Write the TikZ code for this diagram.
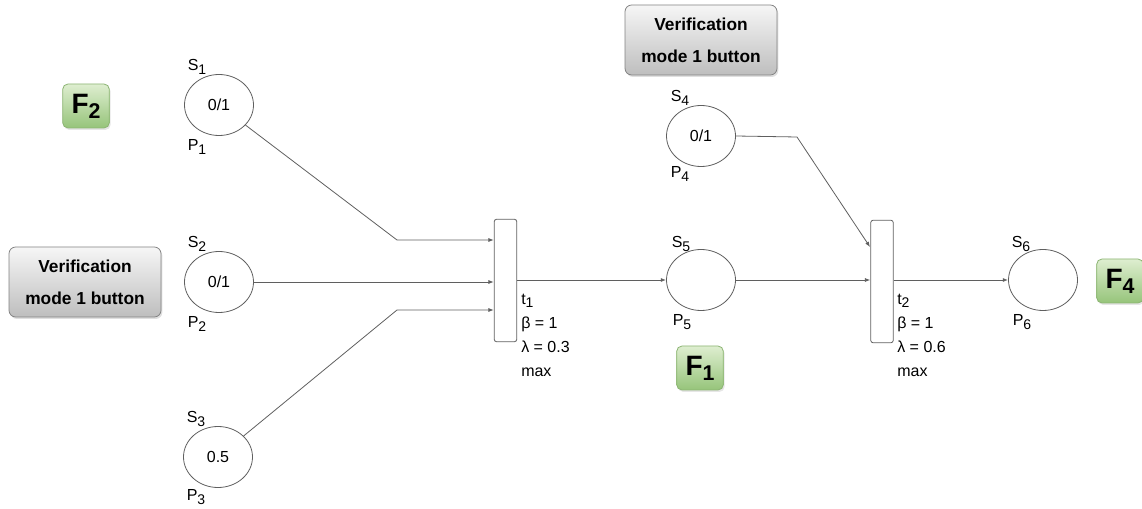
\documentclass[tikz,border=0pt]{standalone}
\usepackage{fontspec}
\setmainfont{Liberation Sans}
\usetikzlibrary{arrows.meta,shadows,shapes.geometric}
\definecolor{lineg}{RGB}{95,95,95}
\definecolor{gtop}{RGB}{222,238,208}
\definecolor{gbot}{RGB}{150,196,122}
\definecolor{gbord}{RGB}{140,180,115}
\definecolor{ytop}{RGB}{246,246,246}
\definecolor{ybot}{RGB}{190,190,190}
\definecolor{ybord}{RGB}{130,130,130}
\newcommand\sbs[1]{\raisebox{-0.4ex}{\fontsize{10.5}{12}\selectfont #1}}
\newcommand\fsbs[1]{\raisebox{-0.35ex}{\fontsize{16}{18}\selectfont\bfseries #1}}
\begin{document}
\begin{tikzpicture}[x=0.75pt,y=-0.75pt,
  place/.style={draw=lineg, line width=0.6pt, ellipse, minimum width=51.75pt, minimum height=45.75pt, inner sep=0pt, font=\fontsize{12}{14}\selectfont},
  trans/.style={draw=lineg, line width=0.6pt, rounded corners=2pt, minimum width=17pt, minimum height=92pt, inner sep=0pt},
  lbl/.style={inner sep=0pt, font=\fontsize{12}{14}\selectfont},
  tlbl/.style={inner sep=0pt, anchor=west, align=left, font=\fontsize{12}{18}\selectfont},
  arc/.style={draw=lineg, line width=0.6pt, -{Latex[length=4pt,width=3pt]}},
  btn/.style={draw=ybord, line width=0.6pt, rounded corners=5pt, top color=ytop, bottom color=ybot, minimum width=114pt, minimum height=52.5pt, align=center, font=\fontsize{13}{24}\selectfont\bfseries, drop shadow={opacity=0.25, shadow xshift=1pt, shadow yshift=-1.5pt}},
  fbox/.style={draw=gbord, line width=0.6pt, rounded corners=4pt, top color=gtop, bottom color=gbot, minimum width=35pt, minimum height=33pt, inner sep=0pt, font=\fontsize{21}{24}\selectfont\bfseries, drop shadow={opacity=0.2, shadow xshift=1pt, shadow yshift=-1.5pt}}
]
\useasboundingbox (0,0) rectangle (1142,509);
% places
\node[place] (p1) at (219,105) {0/1};
\node[place] (p2) at (219,282) {0/1};
\node[place] (p3) at (218,457) {0.5};
\node[place] (p4) at (701,136) {0/1};
\node[place] (p5) at (701,280) {};
\node[place] (p6) at (1043,280) {};
% place labels
\node[lbl] (s1) at ([shift={(-22,-38)}]p1) {S\sbs{1}};
\node[lbl] (q1) at ([shift={(-22,42)}]p1) {P\sbs{1}};
\node[lbl] (s2) at ([shift={(-22,-38)}]p2) {S\sbs{2}};
\node[lbl] (q2) at ([shift={(-22,42)}]p2) {P\sbs{2}};
\node[lbl] (s3) at ([shift={(-22,-38)}]p3) {S\sbs{3}};
\node[lbl] (q3) at ([shift={(-22,40)}]p3) {P\sbs{3}};
\node[lbl] (s4) at ([shift={(-21,-38)}]p4) {S\sbs{4}};
\node[lbl] (q4) at ([shift={(-21,38)}]p4) {P\sbs{4}};
\node[lbl] (s5) at ([shift={(-20,-36)}]p5) {S\sbs{5}};
\node[lbl] (q5) at ([shift={(-19,42)}]p5) {P\sbs{5}};
\node[lbl] (s6) at ([shift={(-22,-36)}]p6) {S\sbs{6}};
\node[lbl] (q6) at ([shift={(-21,42)}]p6) {P\sbs{6}};
% transitions
\node[trans] (t1) at (505.5,280.5) {};
\node[trans] (t2) at (882,281.5) {};
\node[tlbl] (l1) at (521,335) {t\sbs{1}\\β = 1\\λ = 0.3\\max};
\node[tlbl] (l2) at (897,335) {t\sbs{2}\\β = 1\\λ = 0.6\\max};
% buttons
\node[btn] (b1) at (85,282) {Verification\\mode 1 button};
\node[btn] (b2) at (701,40) {Verification\\mode 1 button};
% F boxes
\node[fbox] (f2) at (86,106) {F\fsbs{2}};
\node[fbox] (f1) at (700,368) {F\fsbs{1}};
\node[fbox] (f4) at (1120,281) {F\fsbs{4}};
% arcs
\coordinate (a1) at (397,240);
\coordinate (a3) at (397,310);
\coordinate (a4) at (797,137);
\coordinate (a5) at (870,247);
\draw[arc] (p1) -- (a1) -- (a1 -| t1.west);
\draw[arc] (p2) -- (p2 -| t1.west);
\draw[arc] (p3) -- (a3) -- (a3 -| t1.west);
\draw[arc] (t1.east |- p5) -- (p5);
\draw[arc] (p5) -- (p5 -| t2.west);
\draw[arc] (p4.east) -- (a4) -- (a5);
\draw[arc] (t2.east |- p6) -- (p6);
\end{tikzpicture}
\end{document}
